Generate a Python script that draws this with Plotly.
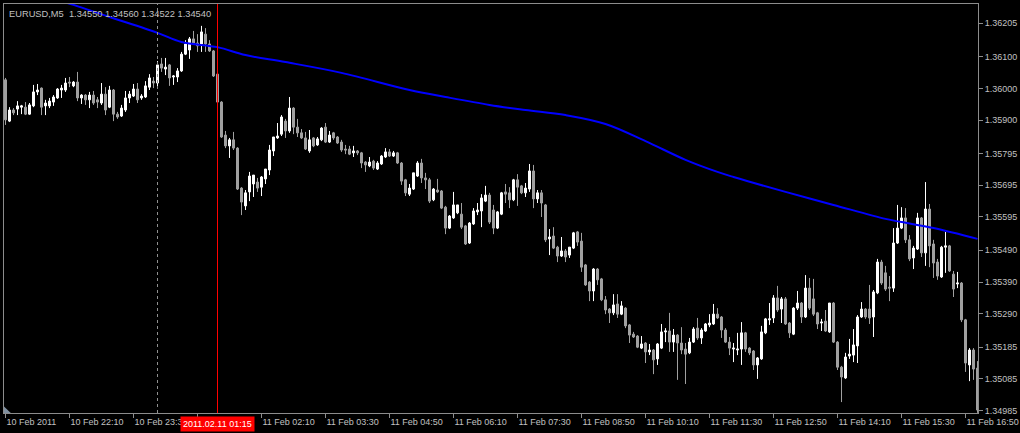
import pandas as pd
import plotly.graph_objects as go

# =============================================================================
#                                 DATA
# =============================================================================
symbol_info = 'EURUSD,M5  1.34550 1.34560 1.34522 1.34540'
first_bar = '2011-02-10 20:50'
bar_minutes = 5

opens = [
    1.36027, 1.35897, 1.35932, 1.35935, 1.35941, 1.35941, 1.35919, 1.35945, 1.35989, 1.36001,
    1.35945, 1.35945, 1.35957, 1.35970, 1.35995, 1.35995, 1.36020, 1.36008, 1.36020, 1.35970,
    1.35979, 1.35964, 1.35979, 1.35964, 1.35954, 1.35982, 1.35941, 1.35995, 1.35919, 1.35913,
    1.35932, 1.35970, 1.35976, 1.35998, 1.35970, 1.35973, 1.36004, 1.36023, 1.36017, 1.36077,
    1.36061, 1.36074, 1.36036, 1.36036, 1.36055, 1.36108, 1.36121, 1.36156, 1.36143, 1.36140,
    1.36171, 1.36140, 1.36118, 1.36045, 1.35957, 1.35853, 1.35819, 1.35838, 1.35812, 1.35686,
    1.35630, 1.35674, 1.35699, 1.35705, 1.35689, 1.35715, 1.35743, 1.35803, 1.35844, 1.35856,
    1.35897, 1.35866, 1.35938, 1.35878, 1.35860, 1.35844, 1.35803, 1.35844, 1.35822, 1.35838,
    1.35878, 1.35831, 1.35860, 1.35847, 1.35831, 1.35809, 1.35809, 1.35797, 1.35803, 1.35797,
    1.35768, 1.35756, 1.35771, 1.35746, 1.35762, 1.35784, 1.35800, 1.35787, 1.35797, 1.35765,
    1.35712, 1.35667, 1.35683, 1.35724, 1.35765, 1.35718, 1.35712, 1.35649, 1.35680, 1.35677,
    1.35626, 1.35560, 1.35592, 1.35608, 1.35604, 1.35567, 1.35513, 1.35573, 1.35611, 1.35614,
    1.35645, 1.35664, 1.35617, 1.35560, 1.35604, 1.35674, 1.35671, 1.35649, 1.35712, 1.35693,
    1.35671, 1.35683, 1.35740, 1.35652, 1.35671, 1.35633, 1.35526, 1.35535, 1.35500, 1.35472,
    1.35488, 1.35475, 1.35497, 1.35548, 1.35519, 1.35444, 1.35390, 1.35362, 1.35431, 1.35400,
    1.35334, 1.35305, 1.35293, 1.35321, 1.35289, 1.35308, 1.35255, 1.35226, 1.35220, 1.35182,
    1.35198, 1.35170, 1.35176, 1.35148, 1.35182, 1.35233, 1.35236, 1.35201, 1.35223, 1.35198,
    1.35179, 1.35167, 1.35201, 1.35245, 1.35214, 1.35236, 1.35255, 1.35258, 1.35289, 1.35280,
    1.35239, 1.35201, 1.35179, 1.35176, 1.35179, 1.35230, 1.35182, 1.35173, 1.35129, 1.35148,
    1.35230, 1.35271, 1.35277, 1.35340, 1.35305, 1.35337, 1.35261, 1.35226, 1.35308, 1.35324,
    1.35280, 1.35371, 1.35337, 1.35293, 1.35261, 1.35267, 1.35233, 1.35324, 1.35201, 1.35122,
    1.35088, 1.35157, 1.35160, 1.35189, 1.35280, 1.35305, 1.35305, 1.35280, 1.35356, 1.35453,
    1.35419, 1.35374, 1.35371, 1.35513, 1.35560, 1.35592, 1.35523, 1.35466, 1.35494, 1.35592,
    1.35482, 1.35620, 1.35510, 1.35453, 1.35406, 1.35500, 1.35504, 1.35415, 1.35384, 1.35387,
    1.35271, 1.35129, 1.35176, 1.35119,
]

highs = [
    1.36033, 1.35941, 1.35938, 1.35960, 1.35948, 1.35957, 1.35954, 1.36011, 1.36014, 1.36003,
    1.35964, 1.35970, 1.35979, 1.36001, 1.36011, 1.36033, 1.36036, 1.36023, 1.36052, 1.35982,
    1.35982, 1.35989, 1.35992, 1.35973, 1.36017, 1.36004, 1.36008, 1.35998, 1.35926, 1.35948,
    1.35992, 1.35992, 1.36014, 1.36017, 1.35982, 1.36023, 1.36045, 1.36036, 1.36086, 1.36096,
    1.36096, 1.36077, 1.36042, 1.36064, 1.36115, 1.36152, 1.36162, 1.36181, 1.36171, 1.36197,
    1.36190, 1.36152, 1.36121, 1.36052, 1.35960, 1.35866, 1.35844, 1.35863, 1.35815, 1.35689,
    1.35680, 1.35737, 1.35727, 1.35718, 1.35724, 1.35746, 1.35822, 1.35847, 1.35891, 1.35916,
    1.35904, 1.35973, 1.35941, 1.35904, 1.35872, 1.35863, 1.35869, 1.35847, 1.35847, 1.35878,
    1.35891, 1.35866, 1.35863, 1.35850, 1.35838, 1.35822, 1.35819, 1.35819, 1.35806, 1.35800,
    1.35771, 1.35784, 1.35775, 1.35771, 1.35790, 1.35812, 1.35809, 1.35803, 1.35800, 1.35768,
    1.35715, 1.35699, 1.35734, 1.35771, 1.35778, 1.35734, 1.35718, 1.35686, 1.35715, 1.35680,
    1.35630, 1.35601, 1.35674, 1.35633, 1.35639, 1.35570, 1.35579, 1.35623, 1.35639, 1.35667,
    1.35693, 1.35671, 1.35633, 1.35614, 1.35674, 1.35699, 1.35689, 1.35715, 1.35730, 1.35696,
    1.35702, 1.35762, 1.35759, 1.35680, 1.35680, 1.35636, 1.35557, 1.35563, 1.35504, 1.35532,
    1.35494, 1.35500, 1.35548, 1.35551, 1.35545, 1.35447, 1.35393, 1.35434, 1.35434, 1.35403,
    1.35346, 1.35308, 1.35352, 1.35352, 1.35330, 1.35311, 1.35258, 1.35233, 1.35223, 1.35220,
    1.35201, 1.35195, 1.35179, 1.35198, 1.35258, 1.35245, 1.35293, 1.35242, 1.35226, 1.35248,
    1.35198, 1.35214, 1.35248, 1.35277, 1.35245, 1.35261, 1.35289, 1.35321, 1.35308, 1.35283,
    1.35245, 1.35217, 1.35198, 1.35230, 1.35264, 1.35233, 1.35185, 1.35176, 1.35154, 1.35252,
    1.35277, 1.35324, 1.35349, 1.35378, 1.35343, 1.35343, 1.35264, 1.35311, 1.35362, 1.35327,
    1.35412, 1.35403, 1.35400, 1.35296, 1.35274, 1.35302, 1.35324, 1.35327, 1.35204, 1.35126,
    1.35167, 1.35211, 1.35242, 1.35286, 1.35327, 1.35308, 1.35381, 1.35365, 1.35463, 1.35460,
    1.35441, 1.35409, 1.35560, 1.35633, 1.35626, 1.35623, 1.35538, 1.35504, 1.35608, 1.35595,
    1.35705, 1.35636, 1.35523, 1.35463, 1.35504, 1.35548, 1.35507, 1.35425, 1.35422, 1.35390,
    1.35274, 1.35182, 1.35182, 1.35141,
]

lows = [
    1.35885, 1.35894, 1.35916, 1.35916, 1.35919, 1.35916, 1.35917, 1.35941, 1.35979, 1.35916,
    1.35916, 1.35938, 1.35945, 1.35967, 1.35970, 1.35989, 1.36004, 1.36004, 1.35960, 1.35951,
    1.35948, 1.35938, 1.35948, 1.35938, 1.35948, 1.35916, 1.35938, 1.35897, 1.35904, 1.35910,
    1.35926, 1.35954, 1.35973, 1.35954, 1.35964, 1.35970, 1.35995, 1.36001, 1.36001, 1.36052,
    1.36042, 1.36008, 1.36011, 1.36020, 1.36052, 1.36105, 1.36093, 1.36137, 1.36115, 1.36115,
    1.36115, 1.36115, 1.36036, 1.35954, 1.35844, 1.35812, 1.35781, 1.35806, 1.35680, 1.35601,
    1.35617, 1.35645, 1.35658, 1.35674, 1.35661, 1.35699, 1.35727, 1.35787, 1.35841, 1.35850,
    1.35844, 1.35860, 1.35856, 1.35847, 1.35841, 1.35806, 1.35797, 1.35815, 1.35819, 1.35834,
    1.35828, 1.35828, 1.35838, 1.35825, 1.35800, 1.35793, 1.35790, 1.35784, 1.35790, 1.35749,
    1.35737, 1.35752, 1.35743, 1.35743, 1.35759, 1.35781, 1.35784, 1.35784, 1.35762, 1.35696,
    1.35661, 1.35661, 1.35680, 1.35721, 1.35702, 1.35683, 1.35639, 1.35645, 1.35671, 1.35620,
    1.35541, 1.35557, 1.35589, 1.35604, 1.35557, 1.35507, 1.35510, 1.35570, 1.35601, 1.35563,
    1.35642, 1.35573, 1.35541, 1.35557, 1.35601, 1.35639, 1.35623, 1.35645, 1.35630, 1.35667,
    1.35658, 1.35674, 1.35623, 1.35639, 1.35595, 1.35516, 1.35475, 1.35494, 1.35453, 1.35469,
    1.35453, 1.35466, 1.35494, 1.35504, 1.35422, 1.35378, 1.35330, 1.35330, 1.35381, 1.35330,
    1.35289, 1.35261, 1.35286, 1.35277, 1.35286, 1.35245, 1.35198, 1.35214, 1.35182, 1.35179,
    1.35135, 1.35160, 1.35100, 1.35129, 1.35179, 1.35201, 1.35170, 1.35170, 1.35082, 1.35163,
    1.35069, 1.35163, 1.35198, 1.35208, 1.35195, 1.35233, 1.35248, 1.35255, 1.35274, 1.35214,
    1.35198, 1.35160, 1.35138, 1.35160, 1.35129, 1.35170, 1.35160, 1.35113, 1.35085, 1.35145,
    1.35226, 1.35255, 1.35261, 1.35296, 1.35261, 1.35255, 1.35214, 1.35223, 1.35302, 1.35261,
    1.35277, 1.35302, 1.35283, 1.35242, 1.35236, 1.35233, 1.35230, 1.35198, 1.35113, 1.35012,
    1.35085, 1.35148, 1.35138, 1.35135, 1.35277, 1.35274, 1.35258, 1.35217, 1.35352, 1.35381,
    1.35362, 1.35330, 1.35359, 1.35510, 1.35557, 1.35513, 1.35456, 1.35431, 1.35491, 1.35469,
    1.35441, 1.35437, 1.35403, 1.35397, 1.35403, 1.35419, 1.35422, 1.35343, 1.35371, 1.35264,
    1.35107, 1.35078, 1.35082, 1.34978,
]

closes = [
    1.35901, 1.35932, 1.35923, 1.35945, 1.35945, 1.35919, 1.35948, 1.35989, 1.35995, 1.35941,
    1.35954, 1.35960, 1.35973, 1.35998, 1.36001, 1.36017, 1.36017, 1.36020, 1.35970, 1.35979,
    1.35964, 1.35979, 1.35954, 1.35957, 1.35982, 1.35932, 1.35995, 1.35919, 1.35910, 1.35938,
    1.35970, 1.35982, 1.35998, 1.35964, 1.35976, 1.36008, 1.36033, 1.36017, 1.36074, 1.36064,
    1.36067, 1.36033, 1.36039, 1.36055, 1.36108, 1.36140, 1.36156, 1.36143, 1.36134, 1.36178,
    1.36140, 1.36118, 1.36039, 1.35957, 1.35847, 1.35819, 1.35838, 1.35812, 1.35683, 1.35642,
    1.35671, 1.35724, 1.35727, 1.35686, 1.35721, 1.35746, 1.35806, 1.35847, 1.35850, 1.35910,
    1.35866, 1.35938, 1.35878, 1.35860, 1.35844, 1.35809, 1.35838, 1.35819, 1.35841, 1.35875,
    1.35831, 1.35853, 1.35844, 1.35828, 1.35806, 1.35806, 1.35793, 1.35803, 1.35797, 1.35765,
    1.35759, 1.35768, 1.35749, 1.35765, 1.35787, 1.35800, 1.35787, 1.35797, 1.35765, 1.35708,
    1.35671, 1.35686, 1.35734, 1.35765, 1.35718, 1.35712, 1.35645, 1.35683, 1.35674, 1.35623,
    1.35560, 1.35598, 1.35633, 1.35633, 1.35563, 1.35510, 1.35576, 1.35614, 1.35617, 1.35655,
    1.35664, 1.35579, 1.35560, 1.35611, 1.35671, 1.35667, 1.35649, 1.35712, 1.35689, 1.35671,
    1.35686, 1.35740, 1.35652, 1.35671, 1.35639, 1.35523, 1.35532, 1.35497, 1.35472, 1.35488,
    1.35469, 1.35500, 1.35545, 1.35516, 1.35437, 1.35381, 1.35362, 1.35431, 1.35397, 1.35334,
    1.35302, 1.35293, 1.35318, 1.35289, 1.35315, 1.35252, 1.35223, 1.35217, 1.35185, 1.35195,
    1.35170, 1.35176, 1.35145, 1.35195, 1.35233, 1.35236, 1.35201, 1.35223, 1.35198, 1.35176,
    1.35163, 1.35201, 1.35242, 1.35214, 1.35239, 1.35258, 1.35261, 1.35289, 1.35277, 1.35239,
    1.35201, 1.35182, 1.35182, 1.35179, 1.35230, 1.35179, 1.35167, 1.35129, 1.35151, 1.35233,
    1.35274, 1.35274, 1.35340, 1.35302, 1.35337, 1.35258, 1.35230, 1.35308, 1.35324, 1.35280,
    1.35371, 1.35308, 1.35289, 1.35258, 1.35264, 1.35236, 1.35324, 1.35201, 1.35122, 1.35091,
    1.35154, 1.35163, 1.35192, 1.35280, 1.35305, 1.35280, 1.35277, 1.35359, 1.35453, 1.35387,
    1.35368, 1.35371, 1.35513, 1.35560, 1.35592, 1.35523, 1.35463, 1.35497, 1.35592, 1.35482,
    1.35620, 1.35504, 1.35450, 1.35409, 1.35500, 1.35504, 1.35425, 1.35368, 1.35387, 1.35271,
    1.35135, 1.35176, 1.35116, 1.34987,
]

# moving average, read at a few bars (bar number, price)
ma_bars = [12, 17, 26, 38, 44, 53, 60, 70, 84, 101, 110, 121, 130, 140, 150,
           160, 170, 178, 182, 195, 207, 220, 224, 232, 243]
ma_values = [1.36282, 1.36263, 1.36225, 1.36175, 1.36146, 1.36130, 1.36105, 1.36083,
             1.36049, 1.35995, 1.35973, 1.35948, 1.35932, 1.35916, 1.35888, 1.35834,
             1.35775, 1.35737, 1.35721, 1.35674, 1.35633, 1.35589, 1.35579, 1.35560,
             1.35526]

time_ticks = ['2011-02-10 20:50', '2011-02-10 22:10', '2011-02-10 23:30', '2011-02-11 00:50',
              '2011-02-11 02:10', '2011-02-11 03:30', '2011-02-11 04:50', '2011-02-11 06:10',
              '2011-02-11 07:30', '2011-02-11 08:50', '2011-02-11 10:10', '2011-02-11 11:30',
              '2011-02-11 12:50', '2011-02-11 14:10', '2011-02-11 15:30', '2011-02-11 16:50']
time_labels = ['10 Feb 2011', '10 Feb 22:10', '10 Feb 23:30', '11 Feb 00:50',
               '11 Feb 02:10', '11 Feb 03:30', '11 Feb 04:50', '11 Feb 06:10',
               '11 Feb 07:30', '11 Feb 08:50', '11 Feb 10:10', '11 Feb 11:30',
               '11 Feb 12:50', '11 Feb 14:10', '11 Feb 15:30', '11 Feb 16:50']

price_ticks = [1.36205, 1.36100, 1.36000, 1.35900, 1.35795, 1.35695, 1.35595,
               1.35490, 1.35390, 1.35290, 1.35185, 1.35085, 1.34985]

day_separator = '2011-02-11 00:00'
cursor_time = '2011-02-11 01:15'
cursor_label = '2011.02.11 01:15'

# visible window (slightly off the bar times so 1px lines land on whole pixels)
x_range = ['2011-02-10 20:48:07.5', '2011-02-11 17:05:37.5']
y_range = [1.349776, 1.362659]

# =============================================================================
#                                 PLOT
# =============================================================================
times = pd.date_range(first_bar, periods=len(closes), freq='%dmin' % bar_minutes)
ma_times = [times[k] for k in ma_bars]

GRAY = '#a0a0a0'
FRAME = '#8c8c8c'
TEXT = '#c0c0c0'
FONT = 'Liberation Sans'
FSIZE = 9

fig = go.Figure()
fig.add_trace(go.Candlestick(x=times, open=opens, high=highs, low=lows, close=closes,
                             increasing=dict(line=dict(color='#ffffff', width=1),
                                             fillcolor='#ffffff'),
                             decreasing=dict(line=dict(color=GRAY, width=1),
                                             fillcolor=GRAY),
                             whiskerwidth=0, hoverinfo='skip', showlegend=False))
fig.add_trace(go.Scatter(x=ma_times, y=ma_values, mode='lines',
                         line=dict(color='#0000ff', width=2, shape='spline'),
                         hoverinfo='skip', showlegend=False))

fig.add_shape(type='line', xref='x', yref='paper', x0=day_separator, x1=day_separator,
              y0=0, y1=1, line=dict(color='#909090', width=1, dash='3px,3px'))
fig.add_shape(type='line', xref='x', yref='paper', x0=cursor_time, x1=cursor_time,
              y0=0, y1=1, line=dict(color='#ff0000', width=1))
fig.add_shape(type='path', xref='paper', yref='paper', path='M 0,0 L 0.007,0 L 0,0.016 Z',
              fillcolor='#8090a0', line=dict(width=0))

fig.add_annotation(text=symbol_info, xref='paper', yref='paper', x=0, y=1,
                   xanchor='left', yanchor='top', xshift=3, yshift=-3, showarrow=False,
                   font=dict(family=FONT, size=FSIZE + 0.3, color=TEXT))
fig.add_annotation(text=cursor_label, xref='x', yref='paper', x=cursor_time, y=0,
                   xanchor='center', yanchor='top', yshift=-3, showarrow=False,
                   bgcolor='#ff0000', borderpad=2,
                   font=dict(family=FONT, size=FSIZE, color='#ffffff'))

fig.update_layout(
    width=1020, height=433,
    margin=dict(l=4, r=42, t=4, b=20),
    paper_bgcolor='#000000', plot_bgcolor='#000000',
    font=dict(family=FONT, size=FSIZE, color=TEXT),
    boxgap=0.5, boxgroupgap=0,
    showlegend=False,
)
fig.update_xaxes(type='date', range=x_range, rangeslider_visible=False,
                 tickmode='array', tickvals=time_ticks, ticktext=time_labels,
                 tickangle=0, automargin=False,
                 ticklabelposition='outside right', ticks='outside', ticklen=4,
                 tickcolor=FRAME, showgrid=False, zeroline=False,
                 showline=True, linecolor=FRAME, linewidth=1, mirror=True)
fig.update_yaxes(side='right', range=y_range, tickmode='array', tickvals=price_ticks,
                 ticktext=['%.5f' % p for p in price_ticks], ticks='outside', ticklen=4,
                 automargin=False,
                 tickcolor=FRAME, showgrid=False, zeroline=False,
                 showline=True, linecolor=FRAME, linewidth=1, mirror=True)

# page body has a default margin; drop it so the chart sits at the window corner
fig.write_html("out.html", config={'displayModeBar': False},
               post_script="document.body.style.margin='0';document.body.style.background='#000';")
